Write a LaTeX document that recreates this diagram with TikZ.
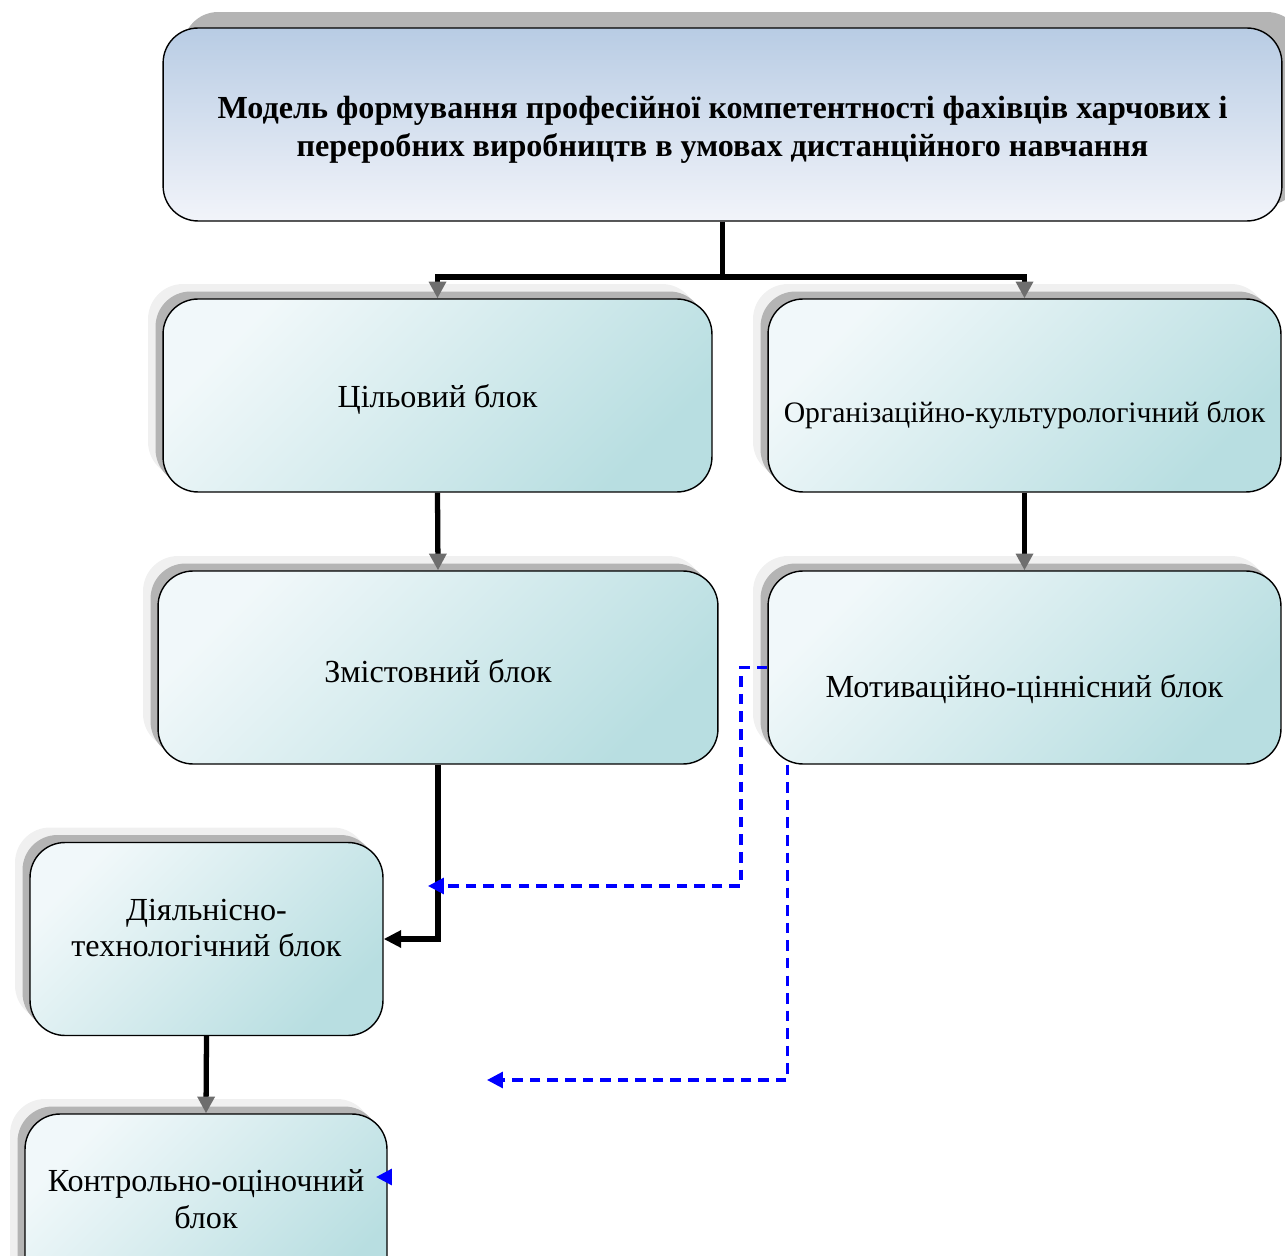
\documentclass[tikz,border=0pt]{standalone}
\usepackage{fontspec}
\setmainfont{Liberation Serif}
\usepackage{tikz}
\usetikzlibrary{arrows.meta}
\usetikzlibrary{shadows}
\definecolor{ttop}{rgb}{0.722,0.8,0.894}
\definecolor{tbot}{rgb}{0.949,0.957,0.98}
\definecolor{blight}{rgb}{0.945,0.973,0.98}
\definecolor{bdark}{rgb}{0.722,0.871,0.882}
\definecolor{shdark}{rgb}{0.706,0.706,0.706}
\definecolor{shlight}{rgb}{0.941,0.941,0.941}
\definecolor{agrey}{rgb}{0.431,0.431,0.431}
\tikzstyle{every node}=[font=\fontsize{18.3}{21}\selectfont]
\tikzstyle{blok}=[draw=black,line width=0.8pt,rounded corners=0.7cm,minimum height=3.86cm,
  copy shadow={fill=shlight,draw=none,shadow xshift=-0.3cm,shadow yshift=0.3cm},
  copy shadow={fill=shdark,draw=none,shadow xshift=-0.15cm,shadow yshift=0.15cm},
  top color=blight,bottom color=bdark,shading angle=45]
\tikzstyle{tblok}=[draw=black,line width=0.8pt,rounded corners=0.7cm,minimum height=3.86cm,
  copy shadow={fill=shdark,draw=none,shadow xshift=0.4cm,shadow yshift=0.32cm},
  top color=ttop,bottom color=tbot]
\tikzstyle{link}=[line width=3pt,-{Triangle[length=9.5pt,width=9.5pt,color=agrey]}]
\tikzstyle{blink}=[line width=3pt,-{Triangle[length=10pt,width=9.5pt]}]
\tikzstyle{vlink}=[blue,line width=1.8pt,dash pattern=on 6pt off 4pt,-{Triangle[length=9pt,width=9pt]}]

\begin{document}
\begin{tikzpicture}[x=0.02cm,y=-0.02cm]
\useasboundingbox (0,0) rectangle (1285,1256);
\clip (0,0) rectangle (1285,1256);
\node[tblok,minimum width=22.38cm] (model) at (722.5,124.5) {};
\node[align=center,font=\fontsize{18.3}{21.6}\selectfont\bfseries] (modeltxt) at (722.5,130)
  {Модель формування професійної компетентності фахівців харчових і\\переробних виробництв в умовах дистанційного навчання};
\node[blok,minimum width=10.98cm] (goal) at (437.5,395.5) {};
\node (goaltxt) at (437.5,399) {Цільовий блок};
\node[blok,minimum width=10.26cm] (org) at (1024.5,395.5) {};
\node[font=\fontsize{16.9}{21}\selectfont] (orgtxt) at (1024.5,415) {Організаційно-культурологічний блок};
\node[blok,minimum width=11.2cm] (content) at (438,667.5) {};
\node (contenttxt) at (438,671) {Змістовний блок};
\node[blok,minimum width=10.26cm] (motiv) at (1024.5,667.5) {};
\node (motivtxt) at (1024.5,689) {Мотиваційно-ціннісний блок};
\node[blok,minimum width=7.06cm] (activ) at (206.5,939) {};
\node[align=center] (activtxt) at (206.5,928) {Діяльнісно-\\технологічний блок};
\node[blok,minimum width=7.24cm] (control) at (206,1210.5) {};
\node[align=center] (controltxt) at (206,1199) {Контрольно-оціночний\\блок};
\coordinate (fork) at (722.5,277);
\draw[link] (model.south) -- (fork) -| (goal.north);
\draw[link] (fork) -| (org.north);
\draw[link] (goal.south) -- (content.north);
\draw[link] (org.south) -- (motiv.north);
\draw[blink] (content.south) |- (activ.east);
\draw[link] (activ.south) -- (control.north);
\coordinate (k1) at (741,886);
\coordinate (e1) at (428,886);
\draw[vlink] (motiv.west) -| (k1) -- (e1);
\coordinate (e2) at (487,1080);
\draw[vlink] ([xshift=0.4cm]motiv.south west) |- (e2);
\coordinate (s1) at (392,1177);
\coordinate (s2) at (376,1177);
\draw[vlink] (s1) -- (s2);
\end{tikzpicture}
\end{document}
